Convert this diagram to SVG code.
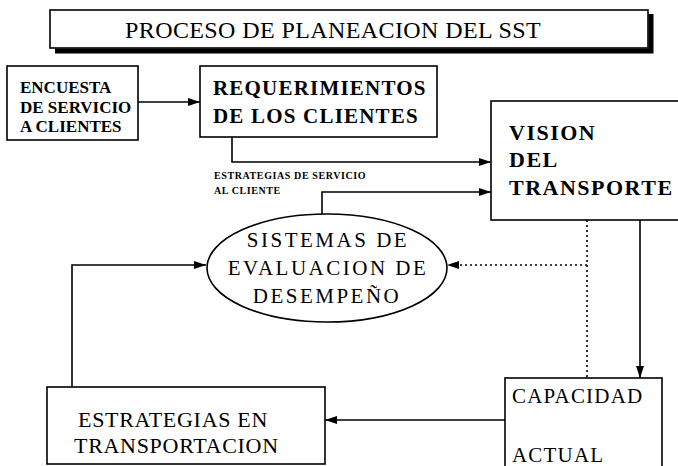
<svg xmlns="http://www.w3.org/2000/svg" width="678" height="466" viewBox="0 0 678 466">
<defs>
<style>
.box{fill:#fff;stroke:#000;stroke-width:1.6}
.ln{fill:none;stroke:#000;stroke-width:1.6}
.dot{fill:none;stroke:#000;stroke-width:1.6;stroke-dasharray:2 3}
text{font-family:"Liberation Serif","Times New Roman",serif;fill:#000}
.b{font-weight:bold}
</style>
<marker id="ah" viewBox="0 0 12 8" refX="12" refY="4" markerWidth="12" markerHeight="8" markerUnits="userSpaceOnUse" orient="auto">
<path d="M0,0 L12,4 L0,8 Z" fill="#000"/>
</marker>
</defs>
<rect width="678" height="466" fill="#fff"/>

<g id="title">
<rect class="box" x="50" y="10" width="598" height="38"/>
<path d="M55 51 H651 V14" fill="none" stroke="#000" stroke-width="5"/>
<text x="125" y="38" font-size="24" letter-spacing="0.4">PROCESO DE PLANEACION DEL SST</text>
</g>

<g id="connectors">
<line class="ln" x1="138" y1="102" x2="200" y2="102" marker-end="url(#ah)"/>
<polyline class="ln" points="232,137 232,162 491,162" marker-end="url(#ah)"/>
<polyline class="ln" points="322,214 322,192 491,192" marker-end="url(#ah)"/>
<line class="dot" x1="587" y1="220" x2="587" y2="378"/>
<line class="dot" x1="587" y1="265" x2="447" y2="265" marker-end="url(#ah)"/>
<line class="ln" x1="640" y1="220" x2="640" y2="378" marker-end="url(#ah)"/>
<line class="ln" x1="505" y1="420" x2="325" y2="420" marker-end="url(#ah)"/>
<polyline class="ln" points="72,387 72,265 206,265" marker-end="url(#ah)"/>
</g>

<g id="label">
<text class="b" x="214" y="179" font-size="10" letter-spacing="0.6">ESTRATEGIAS DE SERVICIO</text>
<text class="b" x="214" y="194" font-size="10" letter-spacing="0.6">AL CLIENTE</text>
</g>

<g id="encuesta">
<rect class="box" x="7" y="66" width="131" height="74"/>
<text class="b" x="20" y="93" font-size="17">ENCUESTA</text>
<text class="b" x="20" y="113" font-size="17">DE SERVICIO</text>
<text class="b" x="20" y="132" font-size="17">A CLIENTES</text>
</g>

<g id="requerimientos">
<rect class="box" x="200" y="66" width="237" height="71"/>
<text class="b" x="213" y="95" font-size="21" letter-spacing="1.2">REQUERIMIENTOS</text>
<text class="b" x="213" y="123" font-size="21" letter-spacing="1.2">DE LOS CLIENTES</text>
</g>

<g id="vision">
<rect class="box" x="491" y="101" width="220" height="119"/>
<text class="b" x="509" y="140" font-size="22" letter-spacing="1.5">VISION</text>
<text class="b" x="509" y="167" font-size="22" letter-spacing="1.5">DEL</text>
<text class="b" x="509" y="195" font-size="22" letter-spacing="1.5">TRANSPORTE</text>
</g>

<g id="sistemas">
<ellipse class="box" cx="327" cy="268" rx="120" ry="54"/>
<text x="328" y="247" font-size="21" letter-spacing="2.5" text-anchor="middle">SISTEMAS DE</text>
<text x="328" y="275" font-size="21" letter-spacing="2.5" text-anchor="middle">EVALUACION DE</text>
<text x="327" y="303" font-size="21" letter-spacing="2.5" text-anchor="middle">DESEMPEÑO</text>
</g>

<g id="estrategias">
<rect class="box" x="47" y="387" width="278" height="77"/>
<text x="78" y="427" font-size="22" letter-spacing="0.7">ESTRATEGIAS EN</text>
<text x="74" y="453" font-size="22" letter-spacing="0.7">TRANSPORTACION</text>
</g>

<g id="capacidad">
<rect class="box" x="505" y="378" width="157" height="100"/>
<text x="512" y="403" font-size="21" letter-spacing="1.2">CAPACIDAD</text>
<text x="512" y="462" font-size="21" letter-spacing="1.2">ACTUAL</text>
</g>
</svg>
